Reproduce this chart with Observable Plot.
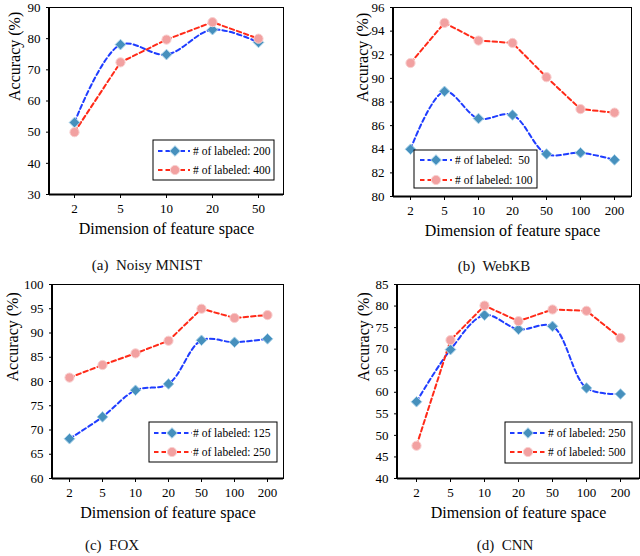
<!DOCTYPE html>
<html>
<head>
<meta charset="utf-8">
<script src="https://cdn.jsdelivr.net/npm/d3@7"></script>
<script src="https://cdn.jsdelivr.net/npm/@observablehq/plot@0.6"></script>
<style>
  body { margin: 0; background: #fff; }
  #chart { position: relative; width: 640px; height: 556px; font-family: "Liberation Serif", "Times New Roman", serif; }
  .panel { position: absolute; width: 320px; height: 250px; }
  .caption { position: absolute; font-size: 15px; white-space: pre; transform: translate(-50%, -50%); color: #111; }
</style>
</head>
<body>
<div id="chart"></div>
<script>
// dimensions of the feature space (x categories)
const dims5 = ["2", "5", "10", "20", "50"];
const dims7 = ["2", "5", "10", "20", "50", "100", "200"];

// (a) Noisy MNIST
const mnist200 = [53.1, 78.1, 74.9, 82.9, 78.8];
const mnist400 = [50.0, 72.4, 79.7, 85.3, 80.0];
// (b) WebKB
const webkb50 = [84.0, 88.9, 86.6, 86.9, 83.6, 83.7, 83.1];
const webkb100 = [91.3, 94.7, 93.2, 93.0, 90.1, 87.4, 87.1];
// (c) FOX
const fox125 = [68.2, 72.7, 78.2, 79.5, 88.5, 88.1, 88.8];
const fox250 = [80.8, 83.4, 85.8, 88.4, 95.0, 93.1, 93.7];
// (d) CNN
const cnn250 = [57.8, 69.9, 77.9, 74.6, 75.3, 61.0, 59.6];
const cnn500 = [47.6, 72.1, 80.1, 76.5, 79.2, 78.9, 72.6];

// y ticks
const ticksA = [30, 40, 50, 60, 70, 80, 90];
const ticksB = [80, 82, 84, 86, 88, 90, 92, 94, 96];
const ticksC = [60, 65, 70, 75, 80, 85, 90, 95, 100];
const ticksD = [40, 45, 50, 55, 60, 65, 70, 75, 80, 85];

const FONT = `"Liberation Serif", "Times New Roman", serif`;
const BLUE = "#1f3dff", RED = "#ff2a18";
const BLUE_FILL = "#4690bd", BLUE_EDGE = "#a9d2ea";
const PINK_FILL = "#f2a1a1", PINK_EDGE = "#f9cfcf";
const DASH = "4.5,3";

const panels = [
  {
    origin: [0, 0], dims: dims5, lo: mnist200, hi: mnist400, ticks: ticksA,
    labels: ["# of labeled: 200", "# of labeled: 400"],
    m: {left: 49, right: 37, top: 7, bottom: 194}, yDx: -35,
    legend: {x: 153, y: 140, w: 121, h: 40, rows: [151, 170], line: [158, 190], mark: 175, text: 193},
    caption: "(a)  Noisy MNIST", capPos: [147, 265]
  },
  {
    origin: [320, 0], dims: dims7, lo: webkb50, hi: webkb100, ticks: ticksB,
    labels: ["# of labeled:  50", "# of labeled: 100"],
    m: {left: 73, right: 9, top: 7, bottom: 196}, yDx: -31,
    legend: {x: 94, y: 150, w: 123, h: 38, rows: [160, 180], line: [100, 132], mark: 116, text: 135},
    caption: "(b)  WebKB", capPos: [494, 266]
  },
  {
    origin: [0, 278], dims: dims7, lo: fox125, hi: fox250, ticks: ticksC,
    labels: ["# of labeled: 125", "# of labeled: 250"],
    m: {left: 52, right: 37, top: 6, bottom: 200}, yDx: -40,
    legend: {x: 149, y: 144, w: 128, h: 40, rows: [155, 174], line: [154, 192], mark: 172, text: 193},
    caption: "(c)  FOX", capPos: [112, 545]
  },
  {
    origin: [320, 278], dims: dims7, lo: cnn250, hi: cnn500, ticks: ticksD,
    labels: ["# of labeled: 250", "# of labeled: 500"],
    m: {left: 77, right: 1, top: 6, bottom: 200}, yDx: -34,
    legend: {x: 185, y: 144, w: 127, h: 41, rows: [155, 174], line: [190, 227], mark: 208, text: 228},
    caption: "(d)  CNN", capPos: [505, 545]
  }
];

const H = 250;
const chart = document.getElementById("chart");

function addLegend(svg, p) {
  const L = p.legend;
  const g = d3.select(svg).append("g")
    .attr("font-family", FONT).attr("font-size", 11.5).attr("text-anchor", "start");
  g.append("rect")
    .attr("x", L.x).attr("y", L.y).attr("width", L.w).attr("height", L.h)
    .attr("fill", "white").attr("stroke", "black").attr("stroke-width", 1);
  const items = [
    {label: p.labels[0], color: BLUE, sym: d3.symbolDiamond2, r: 4.8, fill: BLUE_FILL, edge: BLUE_EDGE},
    {label: p.labels[1], color: RED, sym: d3.symbolCircle, r: 4.6, fill: PINK_FILL, edge: PINK_EDGE}
  ];
  items.forEach((it, i) => {
    const y = L.rows[i];
    g.append("line")
      .attr("x1", L.line[0]).attr("x2", L.line[1]).attr("y1", y).attr("y2", y)
      .attr("stroke", it.color).attr("stroke-width", 2).attr("stroke-dasharray", DASH);
    g.append("path")
      .attr("d", d3.symbol(it.sym, it.r * it.r * Math.PI)())
      .attr("transform", `translate(${L.mark},${y})`)
      .attr("fill", it.fill).attr("stroke", it.edge).attr("stroke-width", 1);
    g.append("text")
      .attr("x", L.text).attr("y", y).attr("dy", "0.35em")
      .attr("text-anchor", "start")
      .style("white-space", "pre")
      .text(it.label);
  });
}

panels.forEach(p => {
  const rows = (vals) => vals.map((v, i) => ({dim: p.dims[i], acc: v}));
  const lo = rows(p.lo), hi = rows(p.hi);
  const svg = Plot.plot({
    width: 320,
    height: H,
    marginLeft: p.m.left,
    marginRight: p.m.right,
    marginTop: p.m.top,
    marginBottom: H - p.m.bottom,
    style: {fontFamily: FONT, fontSize: "13px", color: "black", background: "white", overflow: "visible"},
    x: {type: "point", domain: p.dims, padding: 0.5, label: null, tickSize: 4, tickPadding: 5},
    y: {domain: [p.ticks[0], p.ticks[p.ticks.length - 1]], ticks: p.ticks, label: null, tickSize: 3, tickPadding: 6},
    marks: [
      Plot.frame({stroke: "black", strokeWidth: 1}),
      Plot.ruleY([p.ticks[0]], {stroke: "black", strokeWidth: 2}),
      Plot.line(lo, {x: "dim", y: "acc", stroke: BLUE, strokeWidth: 2, strokeDasharray: DASH, curve: "catmull-rom"}),
      Plot.line(hi, {x: "dim", y: "acc", stroke: RED, strokeWidth: 2, strokeDasharray: DASH}),
      Plot.dot(lo, {x: "dim", y: "acc", symbol: "diamond2", r: 4.8, fill: BLUE_FILL, stroke: BLUE_EDGE, strokeWidth: 1}),
      Plot.dot(hi, {x: "dim", y: "acc", symbol: "circle", r: 4.6, fill: PINK_FILL, stroke: PINK_EDGE, strokeWidth: 1}),
      Plot.text(["Dimension of feature space"], {text: d => d, frameAnchor: "bottom", dy: 39, fontSize: 16}),
      Plot.text(["Accuracy (%)"], {text: d => d, frameAnchor: "left", dx: p.yDx, rotate: -90, fontSize: 16})
    ]
  });
  // thicker left axis line like the original
  d3.select(svg).append("line")
    .attr("x1", p.m.left).attr("x2", p.m.left)
    .attr("y1", p.m.top).attr("y2", p.m.bottom)
    .attr("stroke", "black").attr("stroke-width", 2);
  addLegend(svg, p);

  const div = document.createElement("div");
  div.className = "panel";
  div.style.left = p.origin[0] + "px";
  div.style.top = p.origin[1] + "px";
  div.appendChild(svg);
  chart.appendChild(div);

  const cap = document.createElement("div");
  cap.className = "caption";
  cap.style.left = p.capPos[0] + "px";
  cap.style.top = p.capPos[1] + "px";
  cap.textContent = p.caption;
  chart.appendChild(cap);
});
</script>
</body>
</html>
